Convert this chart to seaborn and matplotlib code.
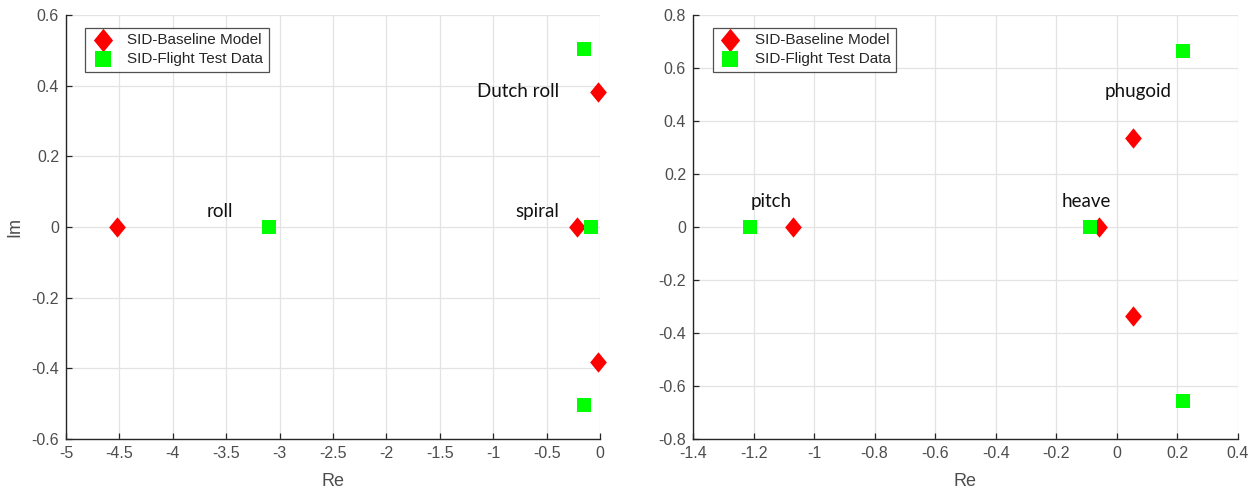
import pandas as pd
import matplotlib.pyplot as plt
import seaborn as sns

sns.set_style("whitegrid")
plt.rcParams['font.family'] = ['Liberation Sans', 'DejaVu Sans']

series = ['SID-Baseline Model', 'SID-Flight Test Data']

# lateral-directional poles (left panel)
lat_base_re = [-4.52, -0.22, -0.02, -0.02]
lat_base_im = [0.0, 0.0, 0.383, -0.383]
lat_flt_re = [-3.10, -0.08, -0.15, -0.15]
lat_flt_im = [0.0, 0.0, 0.503, -0.503]

# longitudinal poles (right panel)
lon_base_re = [-1.07, -0.06, 0.053, 0.053]
lon_base_im = [0.0, 0.0, 0.336, -0.336]
lon_flt_re = [-1.21, -0.09, 0.22, 0.22]
lon_flt_im = [0.0, 0.0, 0.664, -0.658]

lat_labels = ['roll', 'spiral', 'Dutch roll']
lat_label_x = [-3.56, -0.38, -0.38]
lat_label_y = [0.044, 0.044, 0.383]
lat_label_ha = ['center', 'right', 'right']

lon_labels = ['pitch', 'heave', 'phugoid']
lon_label_x = [-1.14, -0.10, 0.07]
lon_label_y = [0.098, 0.098, 0.51]


def make_df(b_re, b_im, f_re, f_im):
    return pd.DataFrame({
        'Re': b_re + f_re,
        'Im': b_im + f_im,
        'src': [series[0]] * len(b_re) + [series[1]] * len(f_re),
    })


diamond = [(0, 1), (0.82, 0), (0, -1), (-0.82, 0)]
palette = {series[0]: '#ff0000', series[1]: '#00ff00'}
markers = {series[0]: diamond, series[1]: 's'}
sizes = {series[0]: 215, series[1]: 100}

fig = plt.figure(figsize=(12.54, 4.93), dpi=100)
ax1 = fig.add_axes([0.0526, 0.1095, 0.4259, 0.8601])
ax2 = fig.add_axes([0.5526, 0.1095, 0.4346, 0.8601])

panels = [
    (ax1, make_df(lat_base_re, lat_base_im, lat_flt_re, lat_flt_im)),
    (ax2, make_df(lon_base_re, lon_base_im, lon_flt_re, lon_flt_im)),
]

for ax, df in panels:
    for s in series:
        sub = df[df['src'] == s]
        sns.scatterplot(data=sub, x='Re', y='Im', color=palette[s], marker=markers[s],
                        s=sizes[s], linewidth=0, label=s, ax=ax, zorder=3, clip_on=False)
    for side in ['top', 'right']:
        ax.spines[side].set_visible(False)
    for side in ['left', 'bottom']:
        ax.spines[side].set_color('#262626')
        ax.spines[side].set_linewidth(1.0)
    ax.grid(True, color='#e3e3e3', linewidth=0.9)
    ax.tick_params(direction='in', length=4, width=0.9, color='#262626',
                   labelcolor='#4d4d4d', labelsize=11.5, left=True, bottom=True, pad=5)
    ax.set_xlabel('Re', fontsize=13, color='#4d4d4d', labelpad=9)
    leg = ax.legend(loc='upper left', bbox_to_anchor=(0.036, 0.97), fontsize=11,
                    frameon=True, fancybox=False, edgecolor='#262626', borderpad=0.35,
                    handletextpad=0.8, labelspacing=0.35, borderaxespad=0, markerscale=1.15,
                    handlelength=1.6)
    leg.get_frame().set_linewidth(0.9)
    for t in leg.get_texts():
        t.set_color('#262626')

ax1.set_xlim(-5, 0)
ax1.set_ylim(-0.6, 0.6)
ax1.set_xticks([-5, -4.5, -4, -3.5, -3, -2.5, -2, -1.5, -1, -0.5, 0])
ax1.set_xticklabels(['-5', '-4.5', '-4', '-3.5', '-3', '-2.5', '-2', '-1.5', '-1', '-0.5', '0'])
ax1.set_yticks([-0.6, -0.4, -0.2, 0, 0.2, 0.4, 0.6])
ax1.set_yticklabels(['-0.6', '-0.4', '-0.2', '0', '0.2', '0.4', '0.6'])
ax1.set_ylabel('Im', fontsize=13, color='#4d4d4d', labelpad=6)

ax2.set_xlim(-1.4, 0.4)
ax2.set_ylim(-0.8, 0.8)
ax2.set_xticks([-1.4, -1.2, -1, -0.8, -0.6, -0.4, -0.2, 0, 0.2, 0.4])
ax2.set_xticklabels(['-1.4', '-1.2', '-1', '-0.8', '-0.6', '-0.4', '-0.2', '0', '0.2', '0.4'])
ax2.set_yticks([-0.8, -0.6, -0.4, -0.2, 0, 0.2, 0.4, 0.6, 0.8])
ax2.set_yticklabels(['-0.8', '-0.6', '-0.4', '-0.2', '0', '0.2', '0.4', '0.6', '0.8'])
ax2.set_ylabel('')

for lab, x, y, ha in zip(lat_labels, lat_label_x, lat_label_y, lat_label_ha):
    ax1.text(x, y, lab, ha=ha, va='center', fontsize=13.5, family='Lato', color='#111111')
for lab, x, y in zip(lon_labels, lon_label_x, lon_label_y):
    ax2.text(x, y, lab, ha='center', va='center', fontsize=13.5, family='Lato', color='#111111')

fig.savefig('out.png', dpi=100)
